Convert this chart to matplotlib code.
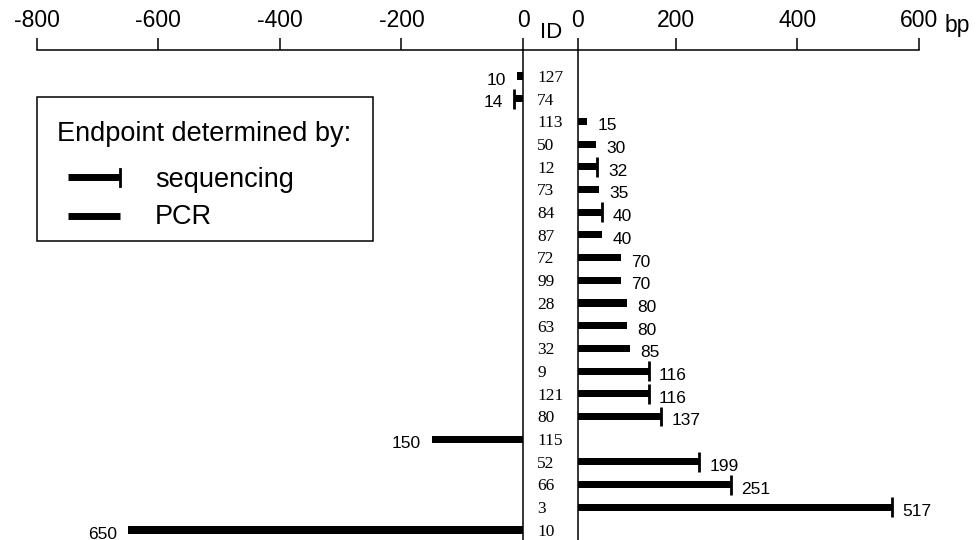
import numpy as np
import matplotlib
matplotlib.use("Agg")
import matplotlib.pyplot as plt
from matplotlib.patches import Rectangle

# данные: ID образцов сверху вниз и длины делеций (bp)
ids = [127, 74, 113, 50, 12, 73, 84, 87, 72, 99, 28, 63, 32, 9, 121, 80, 115, 52, 66, 3, 10]
left_bp = [10, 14, 0, 0, 0, 0, 0, 0, 0, 0, 0, 0, 0, 0, 0, 0, 150, 0, 0, 0, 650]
left_seq = [0, 1, 0, 0, 0, 0, 0, 0, 0, 0, 0, 0, 0, 0, 0, 0, 0, 0, 0, 0, 0]
right_bp = [0, 0, 15, 30, 32, 35, 40, 40, 70, 70, 80, 80, 85, 116, 116, 137, 0, 199, 251, 517, 0]
right_seq = [0, 0, 0, 0, 1, 0, 1, 0, 0, 0, 0, 0, 0, 1, 1, 1, 0, 1, 1, 1, 0]

left_ticks = [-800, -600, -400, -200, 0]
right_ticks = [200, 400, 600]

W, H = 976, 540
SANS = "Liberation Sans"
SERIF = "Liberation Serif"
PX_PER_BP = 0.608


def fx(px):
    return px / W


def fy(py):
    return 1 - py / H


rows = np.arange(len(ids))
ylim = (20.44, -1.145)
axis_y = 50
bar_h = 0.31
cap_h = 0.88
zero_l, zero_r = 523, 578
# в оригинале верхняя шкала справа немного сдвинута относительно баров
scale_zero_r = 554
end_r = scale_zero_r + 600 * PX_PER_BP

fig = plt.figure(figsize=(W / 100, H / 100), dpi=100)

# левая часть: -800 .. 0
ax_l = fig.add_axes([fx(zero_l - 800 * PX_PER_BP), 0, fx(800 * PX_PER_BP), fy(axis_y)])
ax_l.set_xlim(-800, 0)
ax_l.set_ylim(*ylim)
# правая часть с барами
ax_r = fig.add_axes([fx(zero_r), 0, fx(W - zero_r), fy(axis_y)])
ax_r.set_xlim(0, (W - zero_r) / PX_PER_BP)
ax_r.set_ylim(*ylim)
# верхняя шкала справа: линия от левого нуля до 600
ax_t = fig.add_axes([fx(zero_l), 0, fx(end_r - zero_l), fy(axis_y)])
ax_t.set_xlim(-(scale_zero_r - zero_l) / PX_PER_BP, 600)
ax_t.patch.set_alpha(0)

for ax in (ax_l, ax_r, ax_t):
    for s in ax.spines.values():
        s.set_visible(False)
    ax.xaxis.set_ticks_position("top")
    ax.tick_params(axis="x", direction="out", length=8.5, width=1.1, pad=4.5,
                   labelsize=16.5, colors="black")
    ax.set_yticks([])

ax_l.spines["top"].set_visible(True)
ax_l.spines["right"].set_visible(True)
ax_t.spines["top"].set_visible(True)
ax_r.spines["left"].set_visible(True)
for sp in (ax_l.spines["top"], ax_l.spines["right"], ax_t.spines["top"], ax_r.spines["left"]):
    sp.set_linewidth(1.1)

ax_l.set_xticks(left_ticks)
ax_l.set_xticklabels([str(t) for t in left_ticks], fontfamily=SANS)
ax_t.set_xticks(right_ticks)
ax_t.set_xticklabels([str(t) for t in right_ticks], fontfamily=SANS)
ax_r.set_xticks([0])
ax_r.set_xticklabels(["0"], fontfamily=SANS)
ax_t.annotate("bp", xy=(600, 1), xycoords=("data", "axes fraction"),
              xytext=(18.5, 13), textcoords="offset points",
              ha="left", va="baseline", fontsize=16.5, fontfamily=SANS)

# бары
for i in rows:
    if left_bp[i]:
        ax_l.barh(i, -left_bp[i], height=bar_h, color="black", zorder=3)
        if left_seq[i]:
            ax_l.vlines(-left_bp[i], i - cap_h / 2, i + cap_h / 2, color="black", lw=2, zorder=3)
        ax_l.annotate(str(left_bp[i]), xy=(-left_bp[i], i), xytext=(-8, -3),
                      textcoords="offset points", ha="right", va="center",
                      fontsize=12.5, fontfamily=SANS)
    if right_bp[i]:
        ax_r.barh(i, right_bp[i], height=bar_h, color="black", zorder=3)
        if right_seq[i]:
            ax_r.vlines(right_bp[i], i - cap_h / 2, i + cap_h / 2, color="black", lw=2, zorder=3)
        ax_r.annotate(str(right_bp[i]), xy=(right_bp[i], i), xytext=(7.5, -3.2),
                      textcoords="offset points", ha="left", va="center",
                      fontsize=12.5, fontfamily=SANS)

# подписи ID между осями
id_tr = ax_r.get_yaxis_transform()
for i, sid in zip(rows, ids):
    ax_r.text(-41 / (W - zero_r), i + 0.08, str(sid), transform=id_tr, ha="left", va="center",
              fontsize=12.5, fontfamily=SERIF, clip_on=False)
fig.text(fx(551), fy(33), "ID", ha="center", va="center", fontsize=16, fontfamily=SANS)

# легенда
ax_leg = fig.add_axes([0, 0, 1, 1])
ax_leg.set_xlim(0, W)
ax_leg.set_ylim(H, 0)
ax_leg.axis("off")
ax_leg.add_patch(Rectangle((37, 97), 336, 144, fill=False, lw=1.1, ec="black"))
ax_leg.text(57, 134, "Endpoint determined by:", ha="left", va="center",
            fontsize=19.5, fontfamily=SANS)
ax_leg.plot([68, 120], [177, 177], color="black", lw=5, solid_capstyle="butt")
ax_leg.plot([120, 120], [169, 186], color="black", lw=2)
ax_leg.plot([68, 120], [216, 216], color="black", lw=5, solid_capstyle="butt")
ax_leg.text(155, 180, "sequencing", ha="left", va="center", fontsize=19.5, fontfamily=SANS)
ax_leg.text(155, 217, "PCR", ha="left", va="center", fontsize=19.5, fontfamily=SANS)

fig.savefig("out.png", dpi=100)
